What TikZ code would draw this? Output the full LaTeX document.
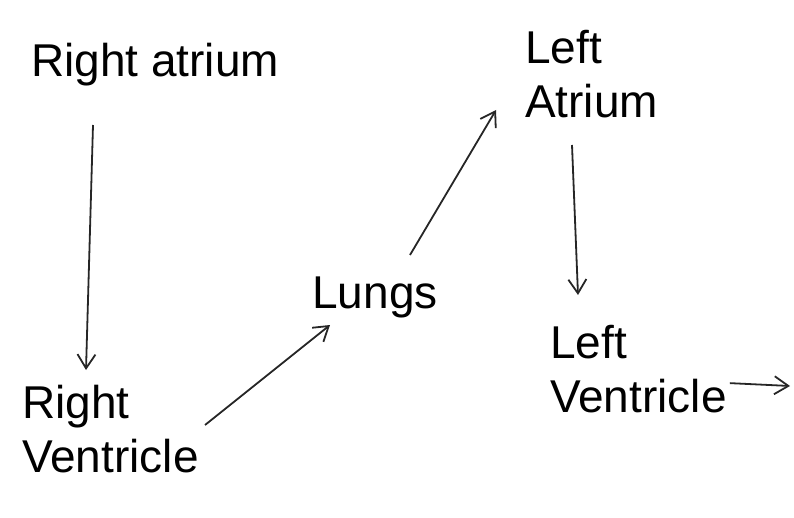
\documentclass[tikz,border=0pt]{standalone}
\usepackage{fontspec}
\setmainfont{Liberation Sans}
\usetikzlibrary{arrows.meta}
\begin{document}
\begin{tikzpicture}[x=1pt,y=-1pt,
  lbl/.style={font=\fontsize{46}{54}\selectfont, inner sep=0pt, align=left},
  flow/.style={draw=black!85, line width=1.8pt, -{Straight Barb[length=14pt,width=18pt]}}]
\useasboundingbox (0,0) rectangle (794,518);
\node[lbl] (ra) at (155,65) {Right atrium};
\node[lbl, anchor=north west] (rv) at (22,385) {Right\\Ventricle};
\node[lbl] (lu) at (375,297) {Lungs};
\node[lbl, anchor=north west] (la) at (525,30) {Left\\Atrium};
\node[lbl, anchor=north west] (lv) at (550,325) {Left\\Ventricle};
\coordinate (out) at (790,386);
\draw[flow] (93,125) -- (86,370);
\draw[flow] (205,425) -- (330,325);
\draw[flow] (410,255) -- (496,110);
\draw[flow] (572,145) -- (578,295);
\draw[flow] (lv.south east) ++(3,-30) -- (out);
\end{tikzpicture}
\end{document}
